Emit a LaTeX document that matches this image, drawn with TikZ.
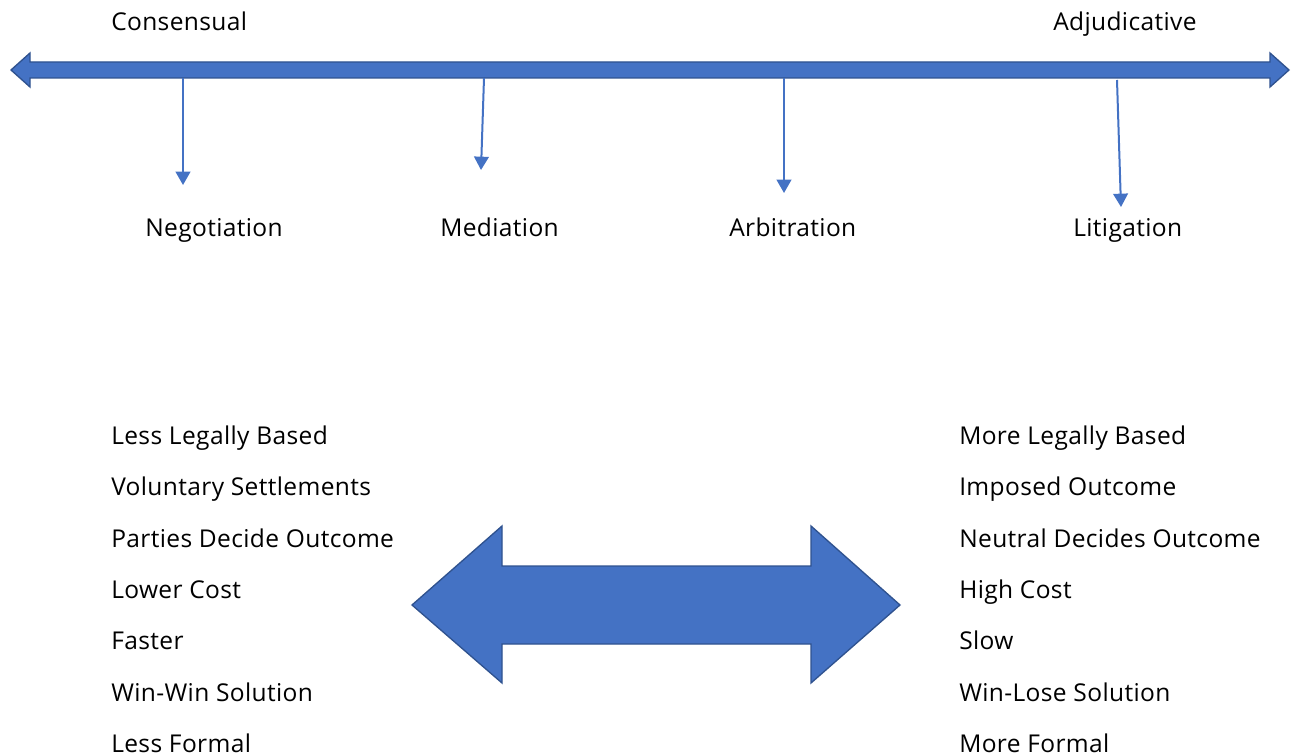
\documentclass[tikz,border=0pt]{standalone}
\usepackage{fontspec}
\setmainfont{Open Sans}[LetterSpace=1.5]
\usetikzlibrary{arrows.meta}
\definecolor{accent}{HTML}{4472C4}
\definecolor{accentdark}{HTML}{2F528F}
\begin{document}
\begin{tikzpicture}[x=0.75pt,y=-0.75pt,
  lbl/.style={anchor=base west,inner sep=0pt,font=\fontsize{18.4}{22}\selectfont},
  band/.style={fill=accent,draw=accentdark,line width=1pt,line join=miter},
  pointer/.style={draw=accent,line width=1.5pt,-{Triangle[width=11pt,length=10pt]}}]
\useasboundingbox (0,0) rectangle (1296,756);
\clip (0,0) rectangle (1296,756);

% spectrum axis
\draw[band] (11,70) -- (30,53) -- (30,62) -- (1270,62) -- (1270,53) -- (1289,70)
  -- (1270,87) -- (1270,78) -- (30,78) -- (30,87) -- cycle;

% axis ends
\node[lbl] (cons) at (111,31) {Consensual};
\node[lbl] (adj) at (1053,31) {Adjudicative};

% processes along the axis
\node[lbl] (neg) at (145,237) {Negotiation};
\node[lbl] (med) at (440,237) {Mediation};
\node[lbl] (arb) at (729,237) {Arbitration};
\node[lbl] (lit) at (1073,237) {Litigation};

\coordinate (negA) at (183,78);  \coordinate (negB) at (183,185);
\coordinate (medA) at (484,78);  \coordinate (medB) at (481,170);
\coordinate (arbA) at (784,78);  \coordinate (arbB) at (784,193);
\coordinate (litA) at (1117,80); \coordinate (litB) at (1121,207);
\draw[pointer] (negA) -- (negB);
\draw[pointer] (medA) -- (medB);
\draw[pointer] (arbA) -- (arbB);
\draw[pointer] (litA) -- (litB);

% contrast arrow
\draw[band] (412,605) -- (502,526) -- (502,566) -- (811,566) -- (811,526) -- (900,605)
  -- (811,683) -- (811,644) -- (502,644) -- (502,683) -- cycle;

% characteristics, consensual side
\node[lbl] (l1) at (111,444.5) {Less Legally Based};
\node[lbl] (l2) at (111,495.8) {Voluntary Settlements};
\node[lbl] (l3) at (111,547.1) {Parties Decide Outcome};
\node[lbl] (l4) at (111,598.4) {Lower Cost};
\node[lbl] (l5) at (111,649.7) {Faster};
\node[lbl] (l6) at (111,701) {Win-Win Solution};
\node[lbl] (l7) at (111,752) {Less Formal};

% characteristics, adjudicative side
\node[lbl] (r1) at (959,444.5) {More Legally Based};
\node[lbl] (r2) at (959,495.8) {Imposed Outcome};
\node[lbl] (r3) at (959,547.1) {Neutral Decides Outcome};
\node[lbl] (r4) at (959,598.4) {High Cost};
\node[lbl] (r5) at (959,649.7) {Slow};
\node[lbl] (r6) at (959,701) {Win-Lose Solution};
\node[lbl] (r7) at (959,752) {More Formal};
\end{tikzpicture}
\end{document}
